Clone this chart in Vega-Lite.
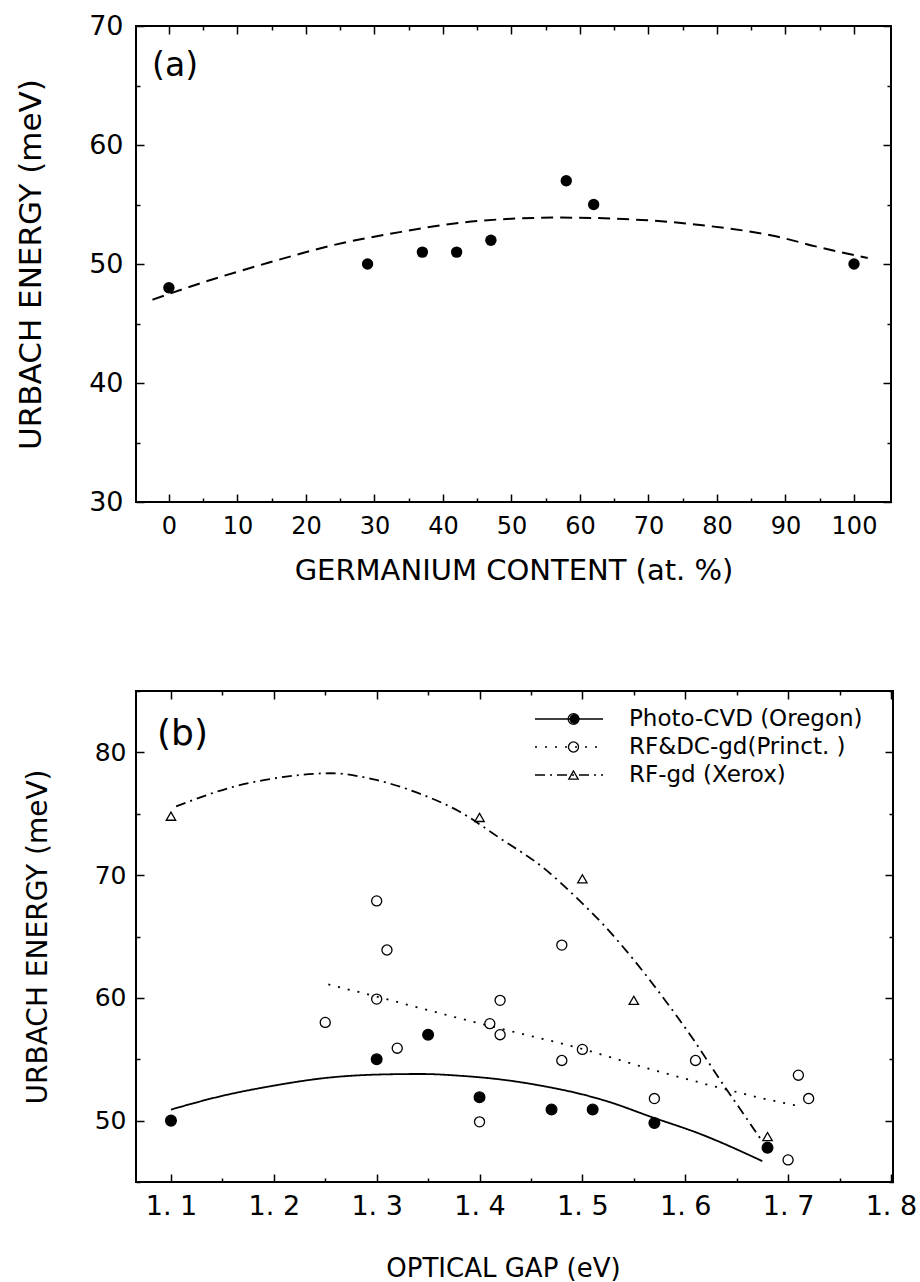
{
  "$schema": "https://vega.github.io/schema/vega-lite/v6.json",
  "padding": {"left": 14, "top": 11, "right": 5, "bottom": 5},
  "autosize": {"type": "pad"},
  "background": "white",
  "spacing": 103,
  "resolve": {
    "scale": {"shape": "independent", "fill": "independent", "size": "independent", "strokeDash": "independent"},
    "legend": {"shape": "independent", "fill": "independent", "size": "independent", "strokeDash": "independent"}
  },
  "config": {
    "view": {"stroke": "black", "strokeWidth": 2},
    "axis": {"labelFont": "DejaVu Sans", "titleFont": "DejaVu Sans", "labelColor": "black", "titleColor": "black", "titleFontWeight": "normal", "grid": false, "domain": false, "labelOverlap": false, "labelFlush": false, "tickColor": "black", "tickWidth": 1.5},
    "legend": {"labelFont": "DejaVu Sans", "labelColor": "black"}
  },
  "datasets": {
    "a_points": [
      {"ge": 0, "eu": 48}, {"ge": 29, "eu": 50}, {"ge": 37, "eu": 51}, {"ge": 42, "eu": 51},
      {"ge": 47, "eu": 52}, {"ge": 58, "eu": 57}, {"ge": 62, "eu": 55}, {"ge": 100, "eu": 50}
    ],
    "a_fit": [
      {"ge": -2.4, "eu": 47.0}, {"ge": 4.7, "eu": 48.4}, {"ge": 14.5, "eu": 50.1}, {"ge": 24.1, "eu": 51.6},
      {"ge": 33.9, "eu": 52.7}, {"ge": 43, "eu": 53.5}, {"ge": 50, "eu": 53.8}, {"ge": 57, "eu": 53.9},
      {"ge": 69, "eu": 53.7}, {"ge": 78.7, "eu": 53.2}, {"ge": 88, "eu": 52.4}, {"ge": 95, "eu": 51.4},
      {"ge": 102, "eu": 50.5}
    ],
    "a_label": [{"x": -2.45, "y": 66.6, "t": "(a)"}],
    "b_label": [{"x": 1.0864, "y": 81.5, "t": "(b)"}],
    "b_points": [
      {"series": "Photo-CVD (Oregon)", "gap": 1.1, "eu": 50.0},
      {"series": "Photo-CVD (Oregon)", "gap": 1.3, "eu": 55.0},
      {"series": "Photo-CVD (Oregon)", "gap": 1.35, "eu": 57.0},
      {"series": "Photo-CVD (Oregon)", "gap": 1.4, "eu": 51.9},
      {"series": "Photo-CVD (Oregon)", "gap": 1.47, "eu": 50.9},
      {"series": "Photo-CVD (Oregon)", "gap": 1.51, "eu": 50.9},
      {"series": "Photo-CVD (Oregon)", "gap": 1.57, "eu": 49.8},
      {"series": "Photo-CVD (Oregon)", "gap": 1.68, "eu": 47.8},
      {"series": "RF&DC-gd(Princt. )", "gap": 1.25, "eu": 58.0},
      {"series": "RF&DC-gd(Princt. )", "gap": 1.3, "eu": 67.9},
      {"series": "RF&DC-gd(Princt. )", "gap": 1.3, "eu": 59.9},
      {"series": "RF&DC-gd(Princt. )", "gap": 1.31, "eu": 63.9},
      {"series": "RF&DC-gd(Princt. )", "gap": 1.32, "eu": 55.9},
      {"series": "RF&DC-gd(Princt. )", "gap": 1.4, "eu": 49.9},
      {"series": "RF&DC-gd(Princt. )", "gap": 1.41, "eu": 57.9},
      {"series": "RF&DC-gd(Princt. )", "gap": 1.42, "eu": 59.8},
      {"series": "RF&DC-gd(Princt. )", "gap": 1.42, "eu": 57.0},
      {"series": "RF&DC-gd(Princt. )", "gap": 1.48, "eu": 64.3},
      {"series": "RF&DC-gd(Princt. )", "gap": 1.48, "eu": 54.9},
      {"series": "RF&DC-gd(Princt. )", "gap": 1.5, "eu": 55.8},
      {"series": "RF&DC-gd(Princt. )", "gap": 1.57, "eu": 51.8},
      {"series": "RF&DC-gd(Princt. )", "gap": 1.61, "eu": 54.9},
      {"series": "RF&DC-gd(Princt. )", "gap": 1.7, "eu": 46.8},
      {"series": "RF&DC-gd(Princt. )", "gap": 1.71, "eu": 53.7},
      {"series": "RF&DC-gd(Princt. )", "gap": 1.72, "eu": 51.8},
      {"series": "RF-gd (Xerox)", "gap": 1.1, "eu": 74.8},
      {"series": "RF-gd (Xerox)", "gap": 1.4, "eu": 74.7},
      {"series": "RF-gd (Xerox)", "gap": 1.5, "eu": 69.7},
      {"series": "RF-gd (Xerox)", "gap": 1.55, "eu": 59.8},
      {"series": "RF-gd (Xerox)", "gap": 1.68, "eu": 48.7}
    ],
    "b_fits": [
      {"series": "Photo-CVD (Oregon)", "gap": 1.1, "eu": 50.9},
      {"series": "Photo-CVD (Oregon)", "gap": 1.149, "eu": 52.0},
      {"series": "Photo-CVD (Oregon)", "gap": 1.2, "eu": 52.85},
      {"series": "Photo-CVD (Oregon)", "gap": 1.253, "eu": 53.5},
      {"series": "Photo-CVD (Oregon)", "gap": 1.3, "eu": 53.75},
      {"series": "Photo-CVD (Oregon)", "gap": 1.343, "eu": 53.8},
      {"series": "Photo-CVD (Oregon)", "gap": 1.382, "eu": 53.65},
      {"series": "Photo-CVD (Oregon)", "gap": 1.43, "eu": 53.25},
      {"series": "Photo-CVD (Oregon)", "gap": 1.466, "eu": 52.75},
      {"series": "Photo-CVD (Oregon)", "gap": 1.497, "eu": 52.2},
      {"series": "Photo-CVD (Oregon)", "gap": 1.525, "eu": 51.55},
      {"series": "Photo-CVD (Oregon)", "gap": 1.567, "eu": 50.3},
      {"series": "Photo-CVD (Oregon)", "gap": 1.615, "eu": 48.9},
      {"series": "Photo-CVD (Oregon)", "gap": 1.675, "eu": 46.7},
      {"series": "RF&DC-gd(Princt. )", "gap": 1.253, "eu": 61.1},
      {"series": "RF&DC-gd(Princt. )", "gap": 1.3, "eu": 60.1},
      {"series": "RF&DC-gd(Princt. )", "gap": 1.382, "eu": 58.3},
      {"series": "RF&DC-gd(Princt. )", "gap": 1.43, "eu": 57.3},
      {"series": "RF&DC-gd(Princt. )", "gap": 1.497, "eu": 55.9},
      {"series": "RF&DC-gd(Princt. )", "gap": 1.566, "eu": 54.2},
      {"series": "RF&DC-gd(Princt. )", "gap": 1.628, "eu": 52.8},
      {"series": "RF&DC-gd(Princt. )", "gap": 1.676, "eu": 51.8},
      {"series": "RF&DC-gd(Princt. )", "gap": 1.71, "eu": 51.2},
      {"series": "RF-gd (Xerox)", "gap": 1.105, "eu": 75.6},
      {"series": "RF-gd (Xerox)", "gap": 1.161, "eu": 77.2},
      {"series": "RF-gd (Xerox)", "gap": 1.21, "eu": 78.0},
      {"series": "RF-gd (Xerox)", "gap": 1.255, "eu": 78.3},
      {"series": "RF-gd (Xerox)", "gap": 1.297, "eu": 77.8},
      {"series": "RF-gd (Xerox)", "gap": 1.34, "eu": 76.7},
      {"series": "RF-gd (Xerox)", "gap": 1.38, "eu": 75.2},
      {"series": "RF-gd (Xerox)", "gap": 1.42, "eu": 73.0},
      {"series": "RF-gd (Xerox)", "gap": 1.462, "eu": 70.6},
      {"series": "RF-gd (Xerox)", "gap": 1.495, "eu": 68.1},
      {"series": "RF-gd (Xerox)", "gap": 1.52, "eu": 66.0},
      {"series": "RF-gd (Xerox)", "gap": 1.547, "eu": 63.4},
      {"series": "RF-gd (Xerox)", "gap": 1.576, "eu": 60.3},
      {"series": "RF-gd (Xerox)", "gap": 1.608, "eu": 56.6},
      {"series": "RF-gd (Xerox)", "gap": 1.634, "eu": 53.3},
      {"series": "RF-gd (Xerox)", "gap": 1.657, "eu": 50.5},
      {"series": "RF-gd (Xerox)", "gap": 1.675, "eu": 48.3}
    ]
  },
  "vconcat": [
    {
      "width": 755,
      "height": 476,
      "resolve": {"axis": {"x": "independent", "y": "independent"}},
      "layer": [
        {
          "data": {"name": "a_fit"},
          "mark": {"type": "line", "color": "black", "strokeWidth": 2, "strokeDash": [12, 7], "interpolate": "monotone"},
          "encoding": {
            "x": {"field": "ge", "type": "quantitative", "scale": {"domain": [-4.8, 105.4], "nice": false, "zero": false},
              "axis": {"orient": "bottom", "values": [0,10,20,30,40,50,60,70,80,90,100], "labels": false, "title": null, "tickSize": -8}},
            "y": {"field": "eu", "type": "quantitative", "scale": {"domain": [30, 70], "nice": false, "zero": false},
              "axis": {"orient": "left", "values": [30,40,50,60,70], "labels": false, "title": null, "tickSize": -8}}
          }
        },
        {
          "data": {"name": "a_points"},
          "mark": {"type": "point", "shape": "circle", "filled": true, "color": "black", "size": 130, "opacity": 1},
          "encoding": {
            "x": {"field": "ge", "type": "quantitative", "scale": {"domain": [-4.8, 105.4], "nice": false, "zero": false},
              "axis": {"orient": "bottom", "values": [0,10,20,30,40,50,60,70,80,90,100], "ticks": false, "labelFontSize": 24, "labelPadding": 12,
                "title": "GERMANIUM CONTENT (at. %)", "titleFontSize": 29, "titlePadding": 18}},
            "y": {"field": "eu", "type": "quantitative", "scale": {"domain": [30, 70], "nice": false, "zero": false},
              "axis": {"orient": "left", "values": [30,40,50,60,70], "ticks": false, "labelFontSize": 27, "labelPadding": 13,
                "title": "URBACH ENERGY (meV)", "titleFontSize": 31, "titlePadding": 41}}
          }
        },
        {
          "data": {"name": "a_label"},
          "mark": {"type": "text", "align": "left", "baseline": "middle", "fontSize": 33, "font": "DejaVu Sans", "color": "black"},
          "encoding": {
            "x": {"field": "x", "type": "quantitative", "scale": {"domain": [-4.8, 105.4], "nice": false, "zero": false},
              "axis": {"orient": "top", "values": [0,10,20,30,40,50,60,70,80,90,100], "labels": false, "title": null, "tickSize": -8}},
            "y": {"field": "y", "type": "quantitative", "scale": {"domain": [30, 70], "nice": false, "zero": false},
              "axis": {"orient": "right", "values": [30,40,50,60,70], "labels": false, "title": null, "tickSize": -8}},
            "text": {"field": "t", "type": "nominal"}
          }
        },
        {
          "data": {"name": "a_points"},
          "transform": [{"filter": "false"}],
          "mark": {"type": "point", "opacity": 0},
          "encoding": {
            "x": {"field": "ge", "type": "quantitative", "scale": {"domain": [-4.8, 105.4], "nice": false, "zero": false},
              "axis": {"orient": "bottom", "values": [5,15,25,35,45,55,65,75,85,95], "labels": false, "title": null, "tickSize": -4}},
            "y": {"field": "eu", "type": "quantitative", "scale": {"domain": [30, 70], "nice": false, "zero": false},
              "axis": {"orient": "left", "values": [35,45,55,65], "labels": false, "title": null, "tickSize": -4}}
          }
        },
        {
          "data": {"name": "a_points"},
          "transform": [{"filter": "false"}],
          "mark": {"type": "point", "opacity": 0},
          "encoding": {
            "x": {"field": "ge", "type": "quantitative", "scale": {"domain": [-4.8, 105.4], "nice": false, "zero": false},
              "axis": {"orient": "top", "values": [5,15,25,35,45,55,65,75,85,95], "labels": false, "title": null, "tickSize": -4}},
            "y": {"field": "eu", "type": "quantitative", "scale": {"domain": [30, 70], "nice": false, "zero": false},
              "axis": {"orient": "right", "values": [35,45,55,65], "labels": false, "title": null, "tickSize": -4}}
          }
        }
      ]
    },
    {
      "width": 757,
      "height": 491,
      "resolve": {"axis": {"x": "independent", "y": "independent"}},
      "layer": [
        {
          "data": {"name": "b_fits"},
          "mark": {"type": "line", "color": "black", "strokeWidth": 1.8, "interpolate": "monotone"},
          "encoding": {
            "x": {"field": "gap", "type": "quantitative", "scale": {"domain": [1.066, 1.802], "nice": false, "zero": false},
              "axis": {"orient": "bottom", "values": [1.1,1.2,1.3,1.4,1.5,1.6,1.7,1.8], "labels": false, "title": null, "tickSize": -8}},
            "y": {"field": "eu", "type": "quantitative", "scale": {"domain": [45, 85], "nice": false, "zero": false},
              "axis": {"orient": "left", "values": [50,60,70,80], "labels": false, "title": null, "tickSize": -8}},
            "strokeDash": {"field": "series", "type": "nominal",
              "scale": {"range": [[1, 0], [2, 8], [10, 5, 2, 5]]},
              "legend": {"orient": "none", "legendX": 398, "legendY": 17.5, "title": null, "labelFontSize": 23, "labelLimit": 600,
                "labelOffset": 25, "rowPadding": 4, "clipHeight": 21, "symbolType": "stroke", "symbolSize": 4624,
                "symbolStrokeColor": "black", "symbolStrokeWidth": 1.6, "padding": 0}}
          }
        },
        {
          "data": {"name": "b_points"},
          "mark": {"type": "point", "shape": "circle", "size": 115, "strokeWidth": 0, "opacity": 1},
          "encoding": {
            "x": {"field": "gap", "type": "quantitative", "scale": {"domain": [1.066, 1.802], "nice": false, "zero": false},
              "axis": {"orient": "bottom", "values": [1.15,1.25,1.35,1.45,1.55,1.65,1.75], "labels": false, "title": null, "tickSize": -4}},
            "y": {"field": "eu", "type": "quantitative", "scale": {"domain": [45, 85], "nice": false, "zero": false},
              "axis": {"orient": "left", "values": [45,55,65,75,85], "labels": false, "title": null, "tickSize": -4}},
            "fill": {"field": "series", "type": "nominal",
              "scale": {"range": ["black", "transparent", "transparent"]},
              "legend": {"orient": "none", "legendX": 427, "legendY": 17.5, "title": null, "labelFontSize": 23, "labelExpr": "' '",
                "rowPadding": 4, "clipHeight": 21, "symbolOpacity": 1, "symbolStrokeColor": "transparent", "symbolStrokeWidth": 0, "padding": 0}}
          }
        },
        {
          "data": {"name": "b_points"},
          "transform": [{"filter": "datum.eu > 0"}],
          "mark": {"type": "point", "filled": false, "color": "black", "strokeWidth": 1.3, "opacity": 1},
          "encoding": {
            "x": {"field": "gap", "type": "quantitative", "scale": {"domain": [1.066, 1.802], "nice": false, "zero": false},
              "axis": {"orient": "bottom", "values": [1.1,1.2,1.3,1.4,1.5,1.6,1.7,1.8], "ticks": false, "labelFontSize": 27, "labelPadding": 11.5,
                "labelExpr": "replace(format(datum.value, '.1f'), '.', '. ')",
                "title": "OPTICAL GAP (eV)", "titleFontSize": 26, "titlePadding": 36, "titleX": 367}},
            "y": {"field": "eu", "type": "quantitative", "scale": {"domain": [45, 85], "nice": false, "zero": false},
              "axis": {"orient": "left", "values": [50,60,70,80], "ticks": false, "labelFontSize": 25, "labelPadding": 10,
                "title": "URBACH ENERGY (meV)", "titleFontSize": 28, "titlePadding": 42}},
            "shape": {"field": "series", "type": "nominal",
              "scale": {"range": ["circle", "circle", "triangle-up"]},
              "legend": {"orient": "none", "legendX": 426, "legendY": 17.5, "title": null, "labelFontSize": 23, "labelExpr": "' '",
                "rowPadding": 4, "clipHeight": 21, "symbolFillColor": "transparent", "symbolStrokeColor": "black", "symbolStrokeWidth": 1.3, "symbolOpacity": 1, "padding": 0}},
            "size": {"field": "series", "type": "nominal",
              "scale": {"range": [115, 88, 150]},
              "legend": {"orient": "none", "legendX": 426, "legendY": 17.5, "title": null, "labelFontSize": 23, "labelExpr": "' '",
                "rowPadding": 4, "clipHeight": 21, "symbolFillColor": "transparent", "symbolStrokeColor": "black", "symbolStrokeWidth": 1.3, "symbolOpacity": 1, "padding": 0}}
          }
        },
        {
          "data": {"name": "b_label"},
          "mark": {"type": "text", "align": "left", "baseline": "middle", "fontSize": 36, "font": "DejaVu Sans", "color": "black"},
          "encoding": {
            "x": {"field": "x", "type": "quantitative", "scale": {"domain": [1.066, 1.802], "nice": false, "zero": false},
              "axis": {"orient": "top", "values": [1.1,1.2,1.3,1.4,1.5,1.6,1.7,1.8], "labels": false, "title": null, "tickSize": -8}},
            "y": {"field": "y", "type": "quantitative", "scale": {"domain": [45, 85], "nice": false, "zero": false},
              "axis": {"orient": "right", "values": [50,60,70,80], "labels": false, "title": null, "tickSize": -8}},
            "text": {"field": "t", "type": "nominal"}
          }
        },
        {
          "data": {"name": "b_label"},
          "transform": [{"filter": "false"}],
          "mark": {"type": "point", "opacity": 0},
          "encoding": {
            "x": {"field": "x", "type": "quantitative", "scale": {"domain": [1.066, 1.802], "nice": false, "zero": false},
              "axis": {"orient": "top", "values": [1.15,1.25,1.35,1.45,1.55,1.65,1.75], "labels": false, "title": null, "tickSize": -4}},
            "y": {"field": "y", "type": "quantitative", "scale": {"domain": [45, 85], "nice": false, "zero": false},
              "axis": {"orient": "right", "values": [45,55,65,75,85], "labels": false, "title": null, "tickSize": -4}}
          }
        }
      ]
    }
  ]
}
